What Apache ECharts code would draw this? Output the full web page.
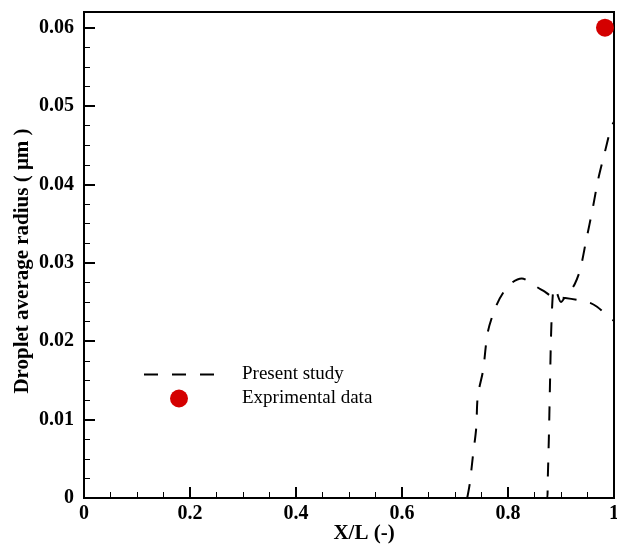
<!DOCTYPE html>
<html>
<head>
<meta charset="utf-8">
<script src="https://cdn.jsdelivr.net/npm/echarts@6/dist/echarts.min.js"></script>
<style>
html, body { margin: 0; padding: 0; background: #fff; }
#chart { width: 617px; height: 547px; }
</style>
</head>
<body>
<div id="chart"></div>
<script>
// present study, first branch (rise, peak, slow decline)
var riseX = [0.723, 0.728, 0.734, 0.740, 0.743, 0.753, 0.762, 0.777, 0.792, 0.808, 0.826, 0.840, 0.855, 0.870, 0.883, 0.908, 0.936, 0.955, 0.968, 0.989, 1.0];
var riseY = [0, 0.0019, 0.0055, 0.0089, 0.0130, 0.0163, 0.0212, 0.0244, 0.0263, 0.0275, 0.0280, 0.0276, 0.0269, 0.0263, 0.0257, 0.0255, 0.0252, 0.0249, 0.0244, 0.0232, 0.0226];
// present study, second branch (vertical jump then rise to the outlet)
var jumpX = [0.862, 0.874, 0.875, 0.877, 0.879, 0.881, 0.883, 0.885, 0.887, 0.892, 0.900, 0.909, 0.917, 0.926, 0.936, 0.947, 0.960, 0.970, 0.983, 0.991, 0.996, 1.0];
var jumpY = [0, 0, 0.0023, 0.0074, 0.0138, 0.0202, 0.0240, 0.0263, 0.0268, 0.0262, 0.0250, 0.0258, 0.0264, 0.0273, 0.0291, 0.0327, 0.0370, 0.0406, 0.0442, 0.0464, 0.0475, 0.0480];
// experimental
var expX = [0.983];
var expY = [0.06];

var xTicks = [0, 0.2, 0.4, 0.6, 0.8, 1];
var yTicks = [0, 0.01, 0.02, 0.03, 0.04, 0.05, 0.06];

function pairs(xs, ys) {
    var out = [];
    for (var i = 0; i < xs.length; i++) {
        out.push([xs[i], ys[i]]);
    }
    return out;
}

var font = 'Liberation Serif';
var myChart = echarts.init(document.getElementById('chart'));

var dashStyle = {
    color: '#000',
    width: 2,
    type: [14, 14]
};

option = {
    animation: false,
    grid: {
        left: 84,
        right: 3,
        top: 12,
        bottom: 49,
        outerBoundsMode: 'none',
        show: true,
        borderColor: '#000',
        borderWidth: 2
    },
    legend: {
        orient: 'vertical',
        left: 143,
        top: 365,
        padding: 0,
        itemWidth: 70,
        itemHeight: 18,
        itemGap: 5,
        textStyle: {
            fontFamily: font,
            fontSize: 19,
            color: '#000',
            padding: [0, 0, 0, 23]
        },
        data: [
            { name: 'Present study', itemStyle: { opacity: 0 } },
            { name: 'Exprimental data' }
        ]
    },
    xAxis: {
        type: 'value',
        min: xTicks[0],
        max: xTicks[xTicks.length - 1],
        interval: 0.2,
        name: 'X/L (-)',
        nameLocation: 'middle',
        nameGap: 25,
        nameMoveOverlap: false,
        nameTextStyle: {
            fontFamily: font,
            fontWeight: 'bold',
            fontSize: 21,
            color: '#000',
            padding: [0, 0, 0, 30]
        },
        axisLine: { lineStyle: { color: '#000', width: 2 } },
        axisTick: { inside: true, length: 11, lineStyle: { color: '#000', width: 2 } },
        minorTick: { show: true, splitNumber: 4, length: 6, lineStyle: { color: '#000', width: 1 } },
        splitLine: { show: false },
        axisLabel: {
            margin: 6,
            fontFamily: font,
            fontWeight: 'bold',
            fontSize: 20,
            color: '#000'
        }
    },
    yAxis: {
        type: 'value',
        min: yTicks[0],
        max: 0.062,
        interval: 0.01,
        name: 'Droplet average radius ( μm )',
        nameLocation: 'middle',
        nameGap: 51,
        nameMoveOverlap: false,
        nameTextStyle: {
            fontFamily: font,
            fontWeight: 'bold',
            fontSize: 21,
            color: '#000',
            padding: [0, 12, 0, 0]
        },
        axisLine: { lineStyle: { color: '#000', width: 2 } },
        axisTick: { inside: true, length: 11, lineStyle: { color: '#000', width: 2 } },
        minorTick: { show: true, splitNumber: 4, length: 6, lineStyle: { color: '#000', width: 1 } },
        splitLine: { show: false },
        axisLabel: {
            margin: 10,
            showMaxLabel: false,
            fontFamily: font,
            fontWeight: 'bold',
            fontSize: 20,
            color: '#000',
            formatter: function (v) {
                var r = Math.round(v * 100) / 100;
                return (yTicks.indexOf(r) >= 0 && Math.abs(v - r) < 1e-9) ? String(r) : '';
            }
        }
    },
    series: [
        {
            name: 'Present study',
            type: 'line',
            symbol: 'none',
            smooth: 0.3,
            lineStyle: dashStyle,
            itemStyle: { color: '#000' },
            data: pairs(riseX, riseY)
        },
        {
            name: 'Present study',
            type: 'line',
            symbol: 'none',
            smooth: 0.3,
            lineStyle: dashStyle,
            itemStyle: { color: '#000' },
            data: pairs(jumpX, jumpY)
        },
        {
            name: 'Exprimental data',
            type: 'scatter',
            symbol: 'circle',
            symbolSize: 18,
            itemStyle: { color: '#d40000', opacity: 1 },
            data: pairs(expX, expY)
        }
    ]
};
myChart.setOption(option);
</script>
</body>
</html>
